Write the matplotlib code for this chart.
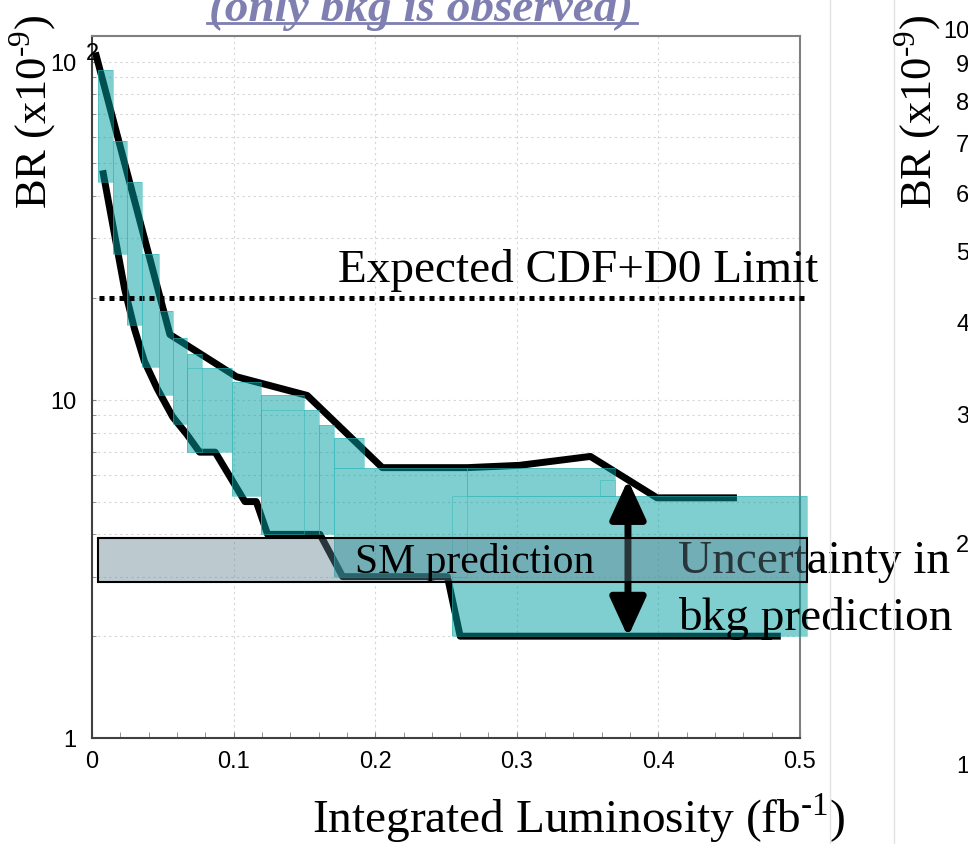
import matplotlib
matplotlib.use('Agg')
import matplotlib.pyplot as plt
from matplotlib.path import Path
from matplotlib.patches import PathPatch, Rectangle
from matplotlib.lines import Line2D
from matplotlib.ticker import FixedLocator, NullLocator

plt.rcParams['mathtext.fontset'] = 'custom'
plt.rcParams['mathtext.rm'] = 'Liberation Serif'

# upper / lower expected limit curves (BR x1e-9 vs fb^-1)
up_x = [0.003, 0.055, 0.102, 0.152, 0.205, 0.265, 0.302, 0.352, 0.399, 0.453]
up_y = [104, 15.6, 11.7, 10.3, 6.3, 6.3, 6.4, 6.8, 5.13, 5.13]
lo_x = [0.008, 0.023, 0.030, 0.037, 0.046, 0.057, 0.067, 0.076, 0.087, 0.108, 0.116,
        0.124, 0.161, 0.177, 0.251, 0.260, 0.484]
lo_y = [46.6, 21.3, 16.2, 13.0, 10.8, 8.9, 7.9, 7.0, 7.0, 5.0, 5.0,
        4.0, 4.0, 3.0, 3.0, 2.0, 2.0]

# uncertainty band, made of boxes
band_x0 = [0.004, 0.015, 0.025, 0.035, 0.047, 0.057, 0.067, 0.067, 0.099, 0.119, 0.119,
           0.160, 0.171, 0.171, 0.265, 0.359, 0.254]
band_x1 = [0.015, 0.025, 0.035, 0.047, 0.057, 0.067, 0.078, 0.099, 0.119, 0.150, 0.160,
           0.171, 0.192, 0.265, 0.369, 0.369, 0.505]
band_lo = [43.9, 26.9, 16.6, 12.5, 10.3, 8.5, 7.0, 7.0, 5.2, 4.0, 4.0,
           4.0, 6.3, 3.0, 5.2, 5.2, 2.0]
band_hi = [94.7, 58.4, 43.9, 26.9, 18.3, 15.2, 13.7, 12.4, 11.3, 10.3, 9.3,
           8.4, 7.7, 6.3, 6.3, 5.8, 5.2]

cdf_d0_limit = 20.0
limit_x = [0.005, 0.505]
sm_lo, sm_hi = 2.9, 3.9
sm_x = [0.004, 0.505]
arrow_x, arrow_top, arrow_bot = 0.3785, 5.8, 1.99

xticks = [0, 0.1, 0.2, 0.3, 0.4, 0.5]
xticklabels = ['0', '0.1', '0.2', '0.3', '0.4', '0.5']
yticks = [1, 10, 100]
yticklabels = ['1', '10', '10']
right_ticks = [1, 2, 3, 4, 5, 6, 7, 8, 9, 10]

serif = 'Liberation Serif'
sans = 'Liberation Sans'
teal = '#00a0a3'

fig = plt.figure(figsize=(9.68, 8.45), dpi=100)
ax = fig.add_axes([92/968, 106/845, 708/968, 702/845])
ax.set_yscale('log')
ax.set_xlim(0, 0.5)
ax.set_ylim(1, 119)

ax.plot(up_x, up_y, color='black', lw=5, zorder=2)
ax.plot(lo_x, lo_y, color='black', lw=5, zorder=2)

# one compound path so overlapping boxes don't darken
paths = []
for x0, x1, y0, y1 in zip(band_x0, band_x1, band_lo, band_hi):
    paths.append(Path([(x0, y0), (x1, y0), (x1, y1), (x0, y1), (x0, y0)],
                      [Path.MOVETO, Path.LINETO, Path.LINETO, Path.LINETO, Path.CLOSEPOLY]))
ax.add_patch(PathPatch(Path.make_compound_path(*paths), facecolor=teal, alpha=0.5,
                       edgecolor='none', zorder=3, clip_on=False))
for x0, x1, y0, y1 in zip(band_x0, band_x1, band_lo, band_hi):
    ax.add_patch(Rectangle((x0, y0), x1 - x0, y1 - y0, fill=False, edgecolor='#2ab5b5',
                           lw=0.6, alpha=0.55, zorder=3.2, clip_on=False))

ax.plot(limit_x, [cdf_d0_limit, cdf_d0_limit], color='black', lw=3.6, dashes=(1, 1),
        dash_capstyle='butt', zorder=3, clip_on=False)
ax.text(0.174, 22.5, 'Expected CDF+D0 Limit', family=serif, fontsize=34, va='baseline', zorder=5)

ax.annotate('', xy=(arrow_x, arrow_top), xytext=(arrow_x, arrow_bot), zorder=4,
            arrowprops=dict(arrowstyle='<|-|>,head_length=1.2,head_width=0.55', lw=5,
                            color='black', mutation_scale=20, shrinkA=0, shrinkB=0))
ax.text(0.414, 3.10, 'Uncertainty in', family=serif, fontsize=34, va='baseline', zorder=4)
ax.text(0.414, 2.10, 'bkg prediction', family=serif, fontsize=34, va='baseline', zorder=4)

ax.add_patch(Rectangle((sm_x[0], sm_lo), sm_x[1] - sm_x[0], sm_hi - sm_lo,
                       facecolor=(0.38, 0.51, 0.57, 0.42), edgecolor='black', lw=1.5,
                       zorder=5, clip_on=False))
ax.text(0.186, 3.10, 'SM prediction', family=serif, fontsize=30, va='baseline', zorder=6)

ax.set_xticks(xticks)
ax.set_xticklabels(xticklabels, family=sans, fontsize=17)
ax.xaxis.set_minor_locator(FixedLocator([i * 0.02 for i in range(26)]))
ax.yaxis.set_major_locator(FixedLocator(yticks))
ax.set_yticklabels(yticklabels, family=sans, fontsize=17)
# exponent of the 10^2 label, written ROOT style next to the axis
ax.annotate('2', xy=(0, 100), xycoords=('axes fraction', 'data'), xytext=(-4.5, 6.5),
            textcoords='offset points', ha='left', va='center', family=sans, fontsize=17)
ax.tick_params(axis='x', which='both', direction='in', length=4, color='#808080', pad=9)
ax.tick_params(axis='y', which='both', direction='in', length=3, color='#808080', pad=11)
ax.set_axisbelow(True)
ax.grid(True, which='both', axis='y', ls=(0, (2, 3)), color='#d6d6d6', lw=0.8)
ax.grid(True, which='major', axis='x', ls=(0, (2, 3)), color='#d6d6d6', lw=0.8)
for s in ['left', 'bottom']:
    ax.spines[s].set_color('#404040')
    ax.spines[s].set_linewidth(1.5)
for s in ['top', 'right']:
    ax.spines[s].set_color('#808080')
    ax.spines[s].set_linewidth(1.5)

br_label = r'BR (x10$^{\text{-9}}$)'
fig.text(33/968, 1 - 112/845, br_label, family=serif, fontsize=32,
         rotation=90, ha='center', va='center')
fig.text(579/968, 1 - 833/845, r'Integrated Luminosity (fb$^{\text{-1}}$)', family=serif,
         fontsize=34, ha='center', va='baseline')

title_color = '#7f7fb1'
fig.text(421/968, 1 - 21/845, '(only bkg is observed)', family=serif, fontsize=34,
         fontweight='bold', style='italic', color=title_color, ha='center', va='baseline')
fig.add_artist(Line2D([207/968, 637/968], [1 - 24/845, 1 - 24/845], color=title_color, lw=2))

# neighbouring slide panel on the right
for xp in [830, 894]:
    fig.add_artist(Line2D([xp/968, xp/968], [0, 1], color='#e2e2e2', lw=1))
ax2 = fig.add_axes([975/968, 80/845, 0.05, 735/845])
ax2.set_yscale('log')
ax2.set_ylim(1, 10)
ax2.yaxis.set_major_locator(FixedLocator(right_ticks))
ax2.yaxis.set_minor_locator(NullLocator())
ax2.set_yticklabels([str(t) for t in right_ticks], family=sans, fontsize=17)
ax2.tick_params(axis='y', length=0, pad=4)
ax2.set_xticks([])
for s in ax2.spines.values():
    s.set_visible(False)
ax2.patch.set_visible(False)
fig.text(918/968, 1 - 112/845, br_label, family=serif, fontsize=32,
         rotation=90, ha='center', va='center')

fig.savefig('out.png', dpi=100)
